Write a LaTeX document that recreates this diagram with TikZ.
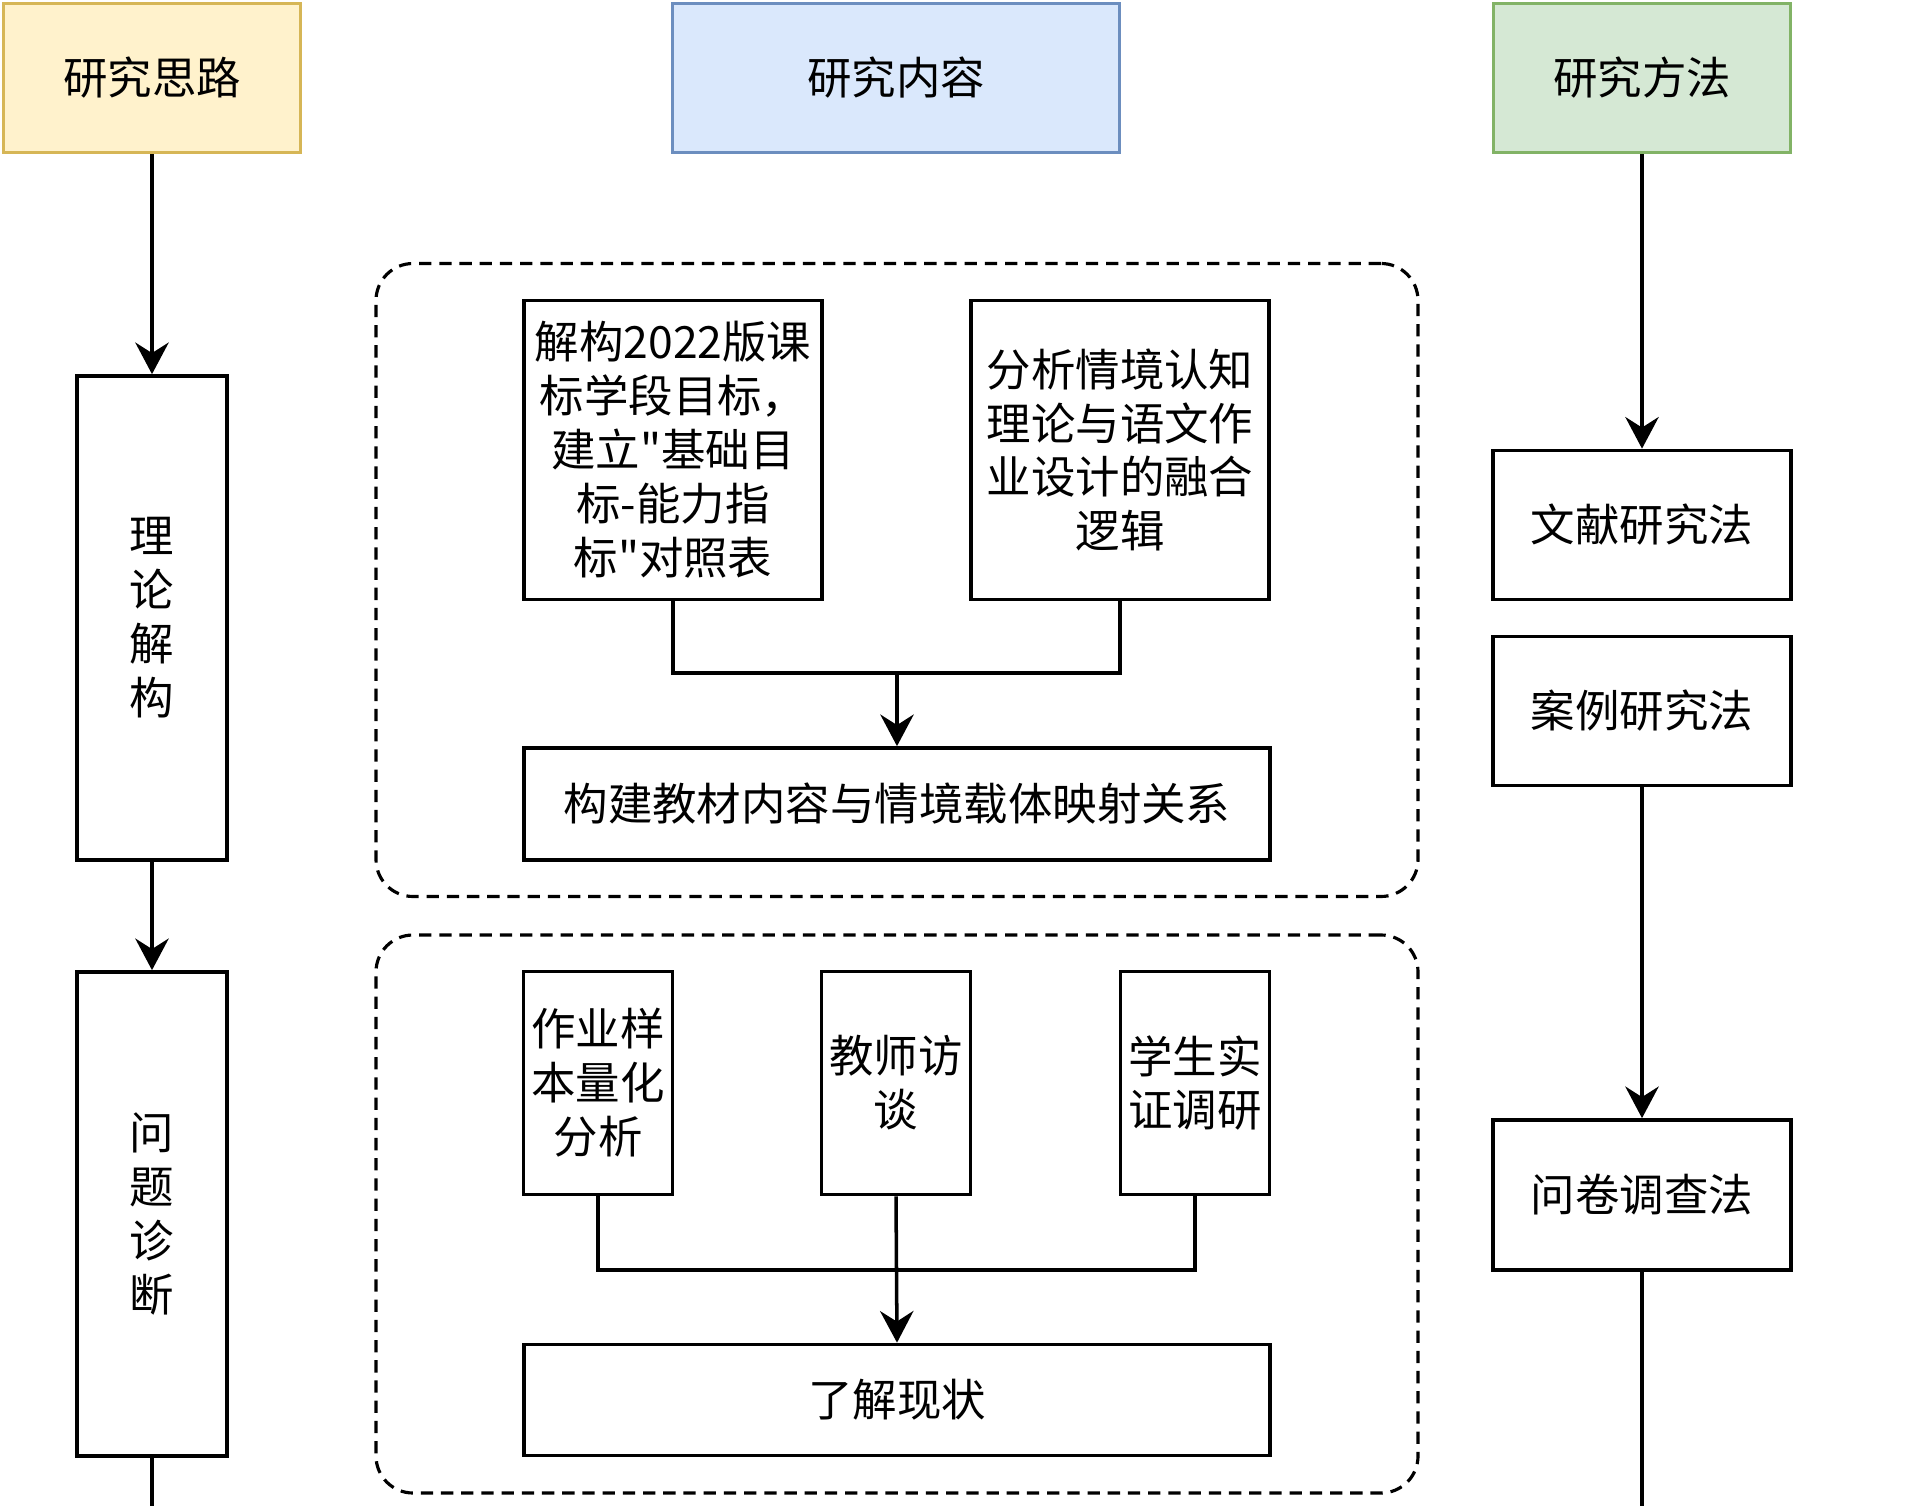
\documentclass[tikz,border=0pt]{standalone}
\usepackage{fontspec}
\newfontfamily\cnfont{Noto Sans CJK SC}
\usepackage{xcolor}
\usetikzlibrary{arrows.meta}

\definecolor{ideafill}{HTML}{FFF2CC}
\definecolor{ideadraw}{HTML}{D6B656}
\definecolor{contfill}{HTML}{DAE8FC}
\definecolor{contdraw}{HTML}{6C8EBF}
\definecolor{methfill}{HTML}{D5E8D4}
\definecolor{methdraw}{HTML}{82B366}

\begin{document}
\begin{tikzpicture}[
  x=0.02cm, y=-0.02cm,
  font=\cnfont\fontsize{25.3}{30.7}\selectfont,
  >={Stealth[length=18pt,width=19pt,inset=6pt]},
  box/.style={
    draw, line width=2.1pt,
    inner sep=0pt,
    align=center
  },
  head/.style={box, minimum width=297*0.02cm, minimum height=149*0.02cm},
  group/.style={draw, line width=1.8pt, dash pattern=on 7pt off 4.5pt,
    rounded corners=0.74cm, inner sep=0pt},
  link/.style={line width=2pt}
]
\useasboundingbox (0,0) rectangle (1920,1506);

% dashed groups
\node[group, minimum width=1042*0.02cm, minimum height=633*0.02cm] (grpa) at (897,580) {};
\node[group, minimum width=1042*0.02cm, minimum height=558*0.02cm] (grpb) at (897,1214) {};

% headers
\node[head, fill=ideafill, draw=ideadraw] (idea) at (152,78) {研究思路};
\node[head, fill=contfill, draw=contdraw, minimum width=447*0.02cm] (cont) at (896,78) {研究内容};
\node[head, fill=methfill, draw=methdraw] (meth) at (1642,78) {研究方法};

% left column
\node[box, minimum width=150*0.02cm, minimum height=484*0.02cm] (lilun) at (152,618) {理\\论\\解\\构};
\node[box, minimum width=150*0.02cm, minimum height=484*0.02cm] (wenti) at (152,1214) {问\\题\\诊\\断};

% middle column
\node[box, minimum width=298*0.02cm, minimum height=299*0.02cm] (kebiao) at (673,450) {解构2022版课\\标学段目标，\\建立"基础目\\标-能力指\\标"对照表};
\node[box, minimum width=298*0.02cm, minimum height=299*0.02cm] (qingjing) at (1120,450) {分析情境认知\\理论与语文作\\业设计的融合\\逻辑};
\node[box, minimum width=746*0.02cm, minimum height=112*0.02cm] (yingshe) at (897,804) {构建教材内容与情境载体映射关系};

\node[box, minimum width=149*0.02cm, minimum height=223*0.02cm] (yangben) at (598,1083) {作业样\\本量化\\分析};
\node[box, minimum width=149*0.02cm, minimum height=223*0.02cm] (fangtan) at (896,1083) {教师访\\谈};
\node[box, minimum width=149*0.02cm, minimum height=223*0.02cm] (diaoyan) at (1195,1083) {学生实\\证调研};
\node[box, minimum width=746*0.02cm, minimum height=111*0.02cm] (xianzhuang) at (897,1400) {了解现状};

% right column
\node[box, minimum width=298*0.02cm, minimum height=149*0.02cm] (wenxian) at (1642,525) {文献研究法};
\node[box, minimum width=298*0.02cm, minimum height=149*0.02cm] (anli) at (1642,711) {案例研究法};
\node[box, minimum width=298*0.02cm, minimum height=150*0.02cm] (wenjuan) at (1642,1195) {问卷调查法};

\coordinate (joina) at (897,673);
\coordinate (joinb) at (896,1270);
\coordinate (endl) at (152,1506);
\coordinate (endr) at (1642,1506);

\draw[->, link] (idea.south) -- (lilun.north);
\draw[->, link] (lilun.south) -- (wenti.north);
\draw[link] (wenti.south) -- (endl);

\draw[link] (kebiao.south) |- (joina) -| (qingjing.south);
\draw[->, link] (joina) -- (yingshe.north);
\draw[link] (yangben.south) |- (joinb) -| (diaoyan.south);
\draw[->, link] (fangtan.south) -- (xianzhuang.north);

\draw[->, link] (meth.south) -- (wenxian.north);
\draw[->, link] (anli.south) -- (wenjuan.north);
\draw[link] (wenjuan.south) -- (endr);

\end{tikzpicture}
\end{document}
